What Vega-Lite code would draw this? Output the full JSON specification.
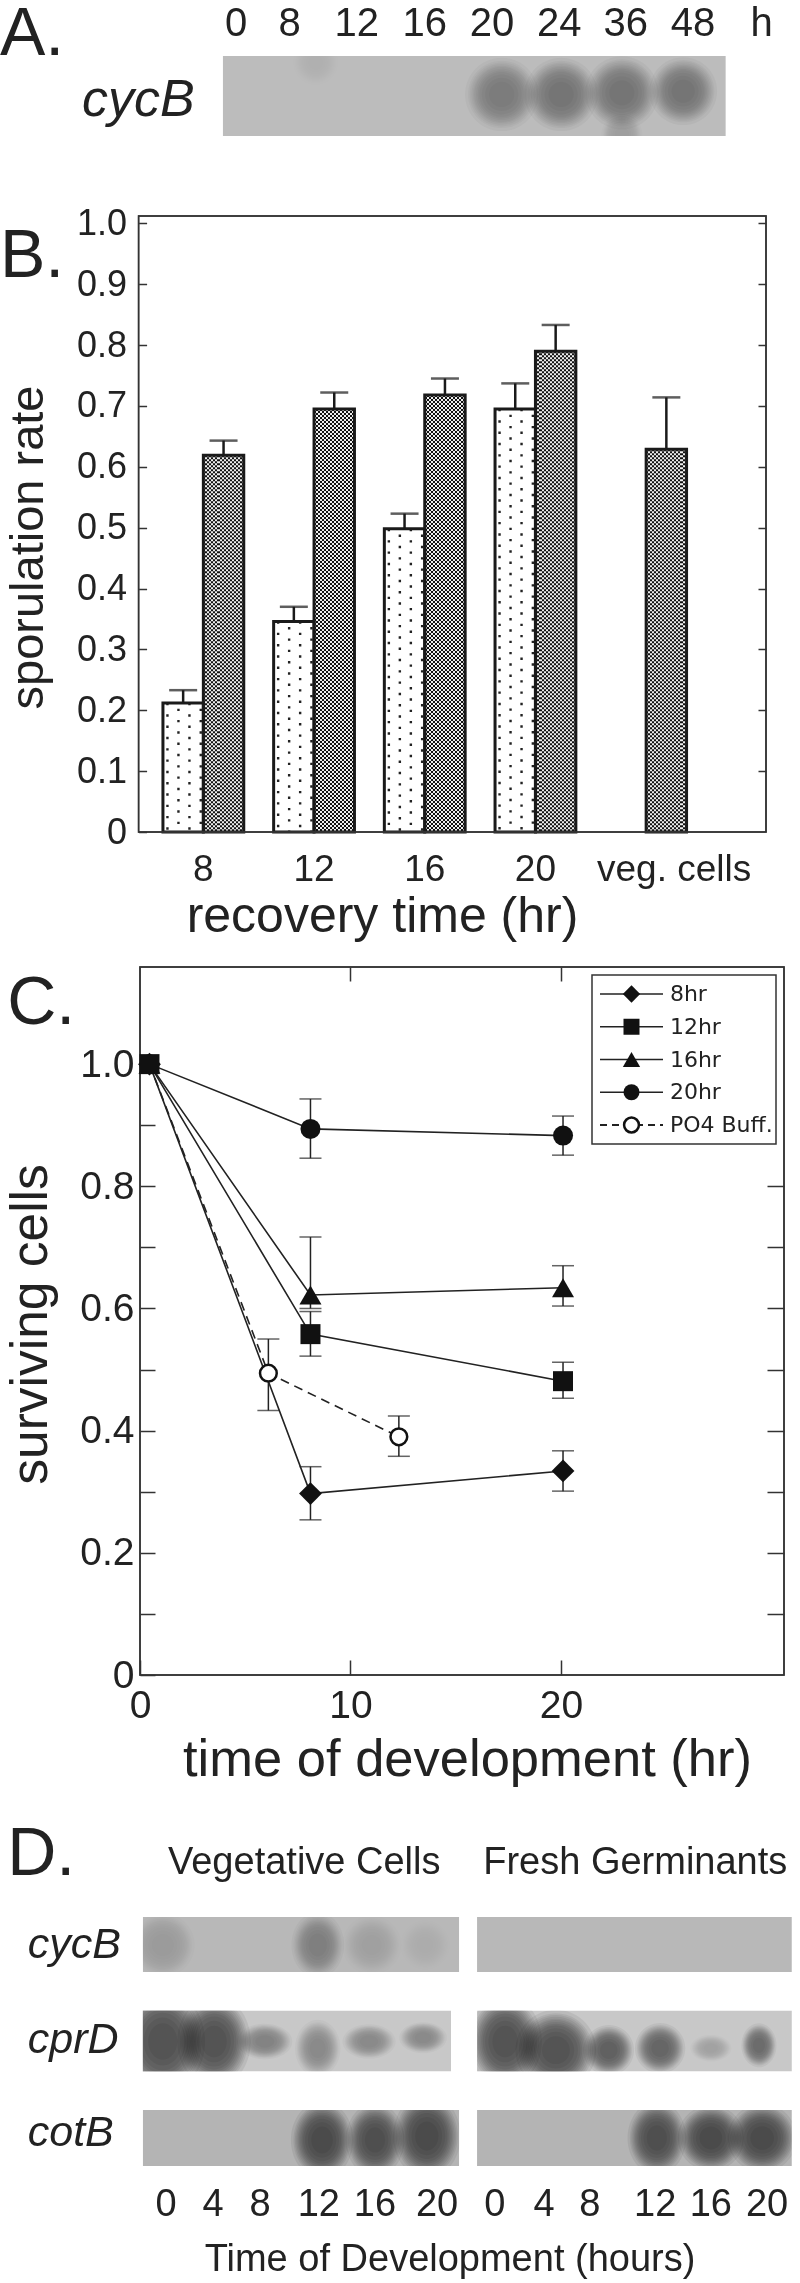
{"$schema":"https://vega.github.io/schema/vega-lite/v6.json","width":800,"height":2283,"padding":0,"autosize":{"type":"fit","contains":"padding"},"background":"white","config":{"view":{"stroke":null},"legend":{"disable":true},"font":"Liberation Sans","text":{"color":"#222"},"axis":{"labelColor":"#222","titleColor":"#222","labelFont":"Liberation Sans","titleFont":"Liberation Sans","titleFontWeight":"normal","grid":false}},
"resolve":{"scale":{"x":"independent","y":"independent"},"axis":{"x":"independent","y":"independent"}},
"datasets":{
"letters":[{"t":"A.","h":0,"v":2.41},{"t":"B.","h":0,"v":12.13},{"t":"C.","h":0.9,"v":44.85},{"t":"D.","h":0.9,"v":82.15}],
"laneA":[{"lane":0,"row":-0.394,"t":"0"},{"lane":0.82,"row":-0.394,"t":"8"},{"lane":1.85,"row":-0.394,"t":"12"},{"lane":2.89,"row":-0.394,"t":"16"},{"lane":3.92,"row":-0.394,"t":"20"},{"lane":4.95,"row":-0.394,"t":"24"},{"lane":5.97,"row":-0.394,"t":"36"},{"lane":7.0,"row":-0.394,"t":"48"},{"lane":8.05,"row":-0.394,"t":"h"}],
"geneA":[{"lane":-2.36,"row":0.55,"t":"cycB"}],
"bandA":[{"lane":1.22,"row":0.08,"level":0.08,"spread":0.5,"form":"round"},{"lane":4.07,"row":0.48,"level":0.5,"spread":0.8,"form":"round"},{"lane":4.98,"row":0.48,"level":0.55,"spread":0.8,"form":"round"},{"lane":5.91,"row":0.46,"level":0.55,"spread":0.8,"form":"round"},{"lane":5.91,"row":0.98,"level":0.16,"spread":0.45,"form":"round"},{"lane":6.85,"row":0.44,"level":0.55,"spread":0.74,"form":"round"}],
"gapA":[{"l0":-0.5,"l1":7.7,"r0":-0.4,"r1":0},{"l0":-0.5,"l1":7.7,"r0":1,"r1":1.6}],
"blotD":[{"gene":"cycB","l0":-0.43,"l1":5.43,"r0":-0.29,"r1":0.28},{"gene":"cycB","l0":5.76,"l1":11.59,"r0":-0.29,"r1":0.28},{"gene":"cprD","l0":-0.43,"l1":5.28,"r0":0.68,"r1":1.31},{"gene":"cprD","l0":5.76,"l1":11.59,"r0":0.68,"r1":1.31},{"gene":"cotB","l0":-0.43,"l1":5.43,"r0":1.71,"r1":2.29},{"gene":"cotB","l0":5.76,"l1":11.59,"r0":1.71,"r1":2.29}],
"gapD":[{"l0":-3,"l1":11.74,"r0":-0.6,"r1":-0.29},{"l0":-3,"l1":11.74,"r0":0.28,"r1":0.68},{"l0":-3,"l1":11.74,"r0":1.31,"r1":1.71},{"l0":-3,"l1":11.74,"r0":2.29,"r1":2.6},{"l0":-3,"l1":-0.43,"r0":-0.6,"r1":2.6},{"l0":5.43,"l1":5.76,"r0":-0.6,"r1":2.6},{"l0":5.28,"l1":5.76,"r0":0.6,"r1":1.4},{"l0":11.59,"l1":11.74,"r0":-0.6,"r1":2.6}],
"bandD":[
{"lane":-0.06,"row":0,"level":0.16,"spread":0.7,"form":"round"},{"lane":1.04,"row":0,"level":0.03,"spread":0.45,"form":"round"},{"lane":1.74,"row":0,"level":0.03,"spread":0.45,"form":"round"},{"lane":2.81,"row":0,"level":0.4,"spread":0.72,"form":"tall"},{"lane":3.81,"row":0,"level":0.15,"spread":0.65,"form":"round"},{"lane":4.8,"row":0,"level":0.05,"spread":0.55,"form":"round"},
{"lane":-0.06,"row":1,"level":1,"spread":1.15,"form":"tall"},{"lane":0.89,"row":1,"level":1,"spread":1.0,"form":"tall"},{"lane":1.83,"row":1.0,"level":0.5,"spread":0.6,"form":"wide"},{"lane":2.81,"row":1.07,"level":0.45,"spread":0.62,"form":"tall"},{"lane":3.76,"row":1.0,"level":0.4,"spread":0.58,"form":"wide"},{"lane":4.76,"row":0.96,"level":0.42,"spread":0.52,"form":"wide"},
{"lane":6.28,"row":1,"level":1,"spread":1.0,"form":"tall"},{"lane":7.22,"row":1.09,"level":1,"spread":0.88,"form":"round"},{"lane":8.2,"row":1.09,"level":0.85,"spread":0.55,"form":"round"},{"lane":9.15,"row":1.07,"level":0.8,"spread":0.55,"form":"round"},{"lane":10.09,"row":1.07,"level":0.25,"spread":0.45,"form":"wide"},{"lane":10.98,"row":1.04,"level":0.75,"spread":0.48,"form":"tall"},
{"lane":2.89,"row":2.02,"level":1,"spread":0.85,"form":"tall"},{"lane":3.87,"row":2.02,"level":0.95,"spread":0.8,"form":"tall"},{"lane":4.83,"row":1.98,"level":1,"spread":0.92,"form":"tall"},
{"lane":9.09,"row":2,"level":0.95,"spread":0.8,"form":"tall"},{"lane":10.09,"row":2,"level":1,"spread":0.72,"form":"round"},{"lane":11.04,"row":2,"level":1,"spread":0.75,"form":"round"}],
"textD":[{"lane":0,"row":2.69,"t":"0"},{"lane":0.87,"row":2.69,"t":"4"},{"lane":1.74,"row":2.69,"t":"8"},{"lane":2.83,"row":2.69,"t":"12"},{"lane":3.87,"row":2.69,"t":"16"},{"lane":5.02,"row":2.69,"t":"20"},{"lane":6.09,"row":2.69,"t":"0"},{"lane":7.0,"row":2.69,"t":"4"},{"lane":7.85,"row":2.69,"t":"8"},{"lane":9.06,"row":2.69,"t":"12"},{"lane":10.09,"row":2.69,"t":"16"},{"lane":11.13,"row":2.69,"t":"20"},{"lane":2.56,"row":-0.85,"t":"Vegetative Cells"},{"lane":8.69,"row":-0.85,"t":"Fresh Germinants"},{"lane":5.26,"row":3.26,"t":"Time of Development (hours)"}],
"geneD":[{"lane":-2.56,"row":0,"t":"cycB"},{"lane":-2.56,"row":0.98,"t":"cprD"},{"lane":-2.56,"row":1.95,"t":"cotB"}],
"rates":[{"recovery":"8","series":"plain","rate":0.212,"upper":0.233},{"recovery":"12","series":"plain","rate":0.346,"upper":0.37},{"recovery":"16","series":"plain","rate":0.498,"upper":0.523},{"recovery":"20","series":"plain","rate":0.695,"upper":0.737},{"recovery":"8","series":"dense","rate":0.619,"upper":0.643},{"recovery":"12","series":"dense","rate":0.695,"upper":0.722},{"recovery":"16","series":"dense","rate":0.718,"upper":0.745},{"recovery":"20","series":"dense","rate":0.79,"upper":0.833},{"recovery":"veg. cells","series":"dense","rate":0.629,"upper":0.714}],
"surv":[
{"series":"8hr","time":0.45,"surv":1},{"series":"8hr","time":8.1,"surv":0.297,"lo":0.254,"hi":0.341},{"series":"8hr","time":20.1,"surv":0.334,"lo":0.301,"hi":0.367},
{"series":"12hr","time":0.45,"surv":1},{"series":"12hr","time":8.1,"surv":0.558,"lo":0.522,"hi":0.595},{"series":"12hr","time":20.1,"surv":0.481,"lo":0.453,"hi":0.512},
{"series":"16hr","time":0.45,"surv":1},{"series":"16hr","time":8.1,"surv":0.622,"lo":0.6,"hi":0.717},{"series":"16hr","time":20.1,"surv":0.634,"lo":0.604,"hi":0.67},
{"series":"20hr","time":0.45,"surv":1},{"series":"20hr","time":8.1,"surv":0.894,"lo":0.846,"hi":0.943},{"series":"20hr","time":20.1,"surv":0.883,"lo":0.851,"hi":0.915},
{"series":"PO4 Buff.","time":0.45,"surv":1},{"series":"PO4 Buff.","time":6.1,"surv":0.494,"lo":0.433,"hi":0.55},{"series":"PO4 Buff.","time":12.3,"surv":0.39,"lo":0.358,"hi":0.424}],
"legendC":[{"series":"8hr"},{"series":"12hr"},{"series":"16hr"},{"series":"20hr"},{"series":"PO4 Buff."}]
},
"layer":[
{"encoding":{"x":{"field":"lane","type":"quantitative","scale":{"domain":[0,7],"range":[236,693],"nice":false,"zero":false},"axis":null},"y":{"field":"row","type":"quantitative","scale":{"domain":[0,1],"range":[56,136],"nice":false,"zero":false},"axis":null},"shape":{"field":"form","type":"nominal","scale":{"domain":["round","tall","wide"],"range":["M-1,0A1,1,0,1,1,1,0A1,1,0,1,1,-1,0Z","M-0.8,0A0.8,1,0,1,1,0.8,0A0.8,1,0,1,1,-0.8,0Z","M-1,0A1,0.65,0,1,1,1,0A1,0.65,0,1,1,-1,0Z"]}},"opacity":{"field":"level","type":"quantitative","scale":{"domain":[0,1],"range":[0,0.065]}}},
"resolve":{"scale":{"size":"independent"}},
"layer":[
{"data":{"values":[{"a":-0.2,"b":7.5,"c":0,"d":1}]},"mark":{"type":"rect","fill":"#bcbcbc"},"encoding":{"x":{"field":"a","type":"quantitative"},"x2":{"field":"b"},"y":{"field":"c","type":"quantitative"},"y2":{"field":"d"},"shape":{"value":null},"opacity":{"value":1}}},
{"data":{"name":"bandA"},"mark":{"type":"point","filled":true,"color":"#000"},"encoding":{"size":{"field":"spread","type":"quantitative","scale":{"type":"pow","exponent":2,"domain":[0,1.2],"range":[0,12100]}}}},
{"data":{"name":"bandA"},"mark":{"type":"point","filled":true,"color":"#000"},"encoding":{"size":{"field":"spread","type":"quantitative","scale":{"type":"pow","exponent":2,"domain":[0,1.2],"range":[0,10200]}}}},
{"data":{"name":"bandA"},"mark":{"type":"point","filled":true,"color":"#000"},"encoding":{"size":{"field":"spread","type":"quantitative","scale":{"type":"pow","exponent":2,"domain":[0,1.2],"range":[0,9216]}}}},
{"data":{"name":"bandA"},"mark":{"type":"point","filled":true,"color":"#000"},"encoding":{"size":{"field":"spread","type":"quantitative","scale":{"type":"pow","exponent":2,"domain":[0,1.2],"range":[0,8281]}}}},
{"data":{"name":"bandA"},"mark":{"type":"point","filled":true,"color":"#000"},"encoding":{"size":{"field":"spread","type":"quantitative","scale":{"type":"pow","exponent":2,"domain":[0,1.2],"range":[0,7396]}}}},
{"data":{"name":"bandA"},"mark":{"type":"point","filled":true,"color":"#000"},"encoding":{"size":{"field":"spread","type":"quantitative","scale":{"type":"pow","exponent":2,"domain":[0,1.2],"range":[0,6724]}}}},
{"data":{"name":"bandA"},"mark":{"type":"point","filled":true,"color":"#000"},"encoding":{"size":{"field":"spread","type":"quantitative","scale":{"type":"pow","exponent":2,"domain":[0,1.2],"range":[0,5929]}}}},
{"data":{"name":"bandA"},"mark":{"type":"point","filled":true,"color":"#000"},"encoding":{"size":{"field":"spread","type":"quantitative","scale":{"type":"pow","exponent":2,"domain":[0,1.2],"range":[0,5184]}}}},
{"data":{"name":"bandA"},"mark":{"type":"point","filled":true,"color":"#000"},"encoding":{"size":{"field":"spread","type":"quantitative","scale":{"type":"pow","exponent":2,"domain":[0,1.2],"range":[0,4489]}}}},
{"data":{"name":"bandA"},"mark":{"type":"point","filled":true,"color":"#000"},"encoding":{"size":{"field":"spread","type":"quantitative","scale":{"type":"pow","exponent":2,"domain":[0,1.2],"range":[0,3600]}}}},
{"data":{"name":"bandA"},"mark":{"type":"point","filled":true,"color":"#000"},"encoding":{"size":{"field":"spread","type":"quantitative","scale":{"type":"pow","exponent":2,"domain":[0,1.2],"range":[0,2500]}}}},
{"data":{"name":"bandA"},"mark":{"type":"point","filled":true,"color":"#000"},"encoding":{"size":{"field":"spread","type":"quantitative","scale":{"type":"pow","exponent":2,"domain":[0,1.2],"range":[0,1444]}}}},
{"data":{"name":"gapA"},"mark":{"type":"rect","fill":"white"},"encoding":{"x":{"field":"l0","type":"quantitative"},"x2":{"field":"l1"},"y":{"field":"r0","type":"quantitative"},"y2":{"field":"r1"},"shape":{"value":null},"opacity":{"value":1}}},
{"data":{"name":"laneA"},"mark":{"type":"text","fontSize":40,"baseline":"middle"},"encoding":{"text":{"field":"t"},"shape":{"value":null},"opacity":{"value":1}}},
{"data":{"name":"geneA"},"mark":{"type":"text","fontSize":52,"fontStyle":"italic","align":"left","baseline":"middle"},"encoding":{"text":{"field":"t"},"shape":{"value":null},"opacity":{"value":1}}}
]},

{"data":{"name":"rates"},"encoding":{"x":{"field":"recovery","type":"nominal","sort":null,"scale":{"domain":["8","12","16","20","veg. cells"],"range":[148,701.5],"paddingInner":0.27,"paddingOuter":0.135},"axis":{"orient":"bottom","offset":-1451,"domain":false,"ticks":false,"labelAngle":0,"labelFontSize":37,"labelPadding":19,"labelOffset":{"condition":{"test":"datum.value==='veg. cells'","value":28},"value":0},"title":"recovery time (hr)","titleFontSize":50,"titleX":382,"titleY":84,"titleBaseline":"middle","titleAnchor":null}},"y":{"field":"rate","type":"quantitative","scale":{"domain":[0,1.012],"range":[832,216],"nice":false,"zero":false},"axis":null}},
"layer":[
{"transform":[{"filter":"datum.series==='dense'"}],"mark":{"type":"bar","fill":"#111"},"encoding":{"xOffset":{"field":"series","scale":{"domain":["plain","dense"]}},"y2":{"datum":0}}},
{"transform":[{"filter":"datum.series==='dense'"}],"mark":{"type":"rule","stroke":"#fff","strokeWidth":39,"strokeDash":[2,2],"blend":"difference"},"encoding":{"x":{"field":"recovery","type":"nominal","bandPosition":0.75},"y2":{"datum":0}}},
{"transform":[{"filter":"datum.series==='dense'"}],"mark":{"type":"bar","blend":"difference","fill":{"gradient":"linear","x1":0,"x2":1,"y1":0,"y2":0,"stops":[{"offset":0.05,"color":"rgba(255,255,255,0)"},{"offset":0.05,"color":"#fff"},{"offset":0.1,"color":"#fff"},{"offset":0.1,"color":"rgba(255,255,255,0)"},{"offset":0.15,"color":"rgba(255,255,255,0)"},{"offset":0.15,"color":"#fff"},{"offset":0.2,"color":"#fff"},{"offset":0.2,"color":"rgba(255,255,255,0)"},{"offset":0.25,"color":"rgba(255,255,255,0)"},{"offset":0.25,"color":"#fff"},{"offset":0.3,"color":"#fff"},{"offset":0.3,"color":"rgba(255,255,255,0)"},{"offset":0.35,"color":"rgba(255,255,255,0)"},{"offset":0.35,"color":"#fff"},{"offset":0.4,"color":"#fff"},{"offset":0.4,"color":"rgba(255,255,255,0)"},{"offset":0.45,"color":"rgba(255,255,255,0)"},{"offset":0.45,"color":"#fff"},{"offset":0.5,"color":"#fff"},{"offset":0.5,"color":"rgba(255,255,255,0)"},{"offset":0.55,"color":"rgba(255,255,255,0)"},{"offset":0.55,"color":"#fff"},{"offset":0.6,"color":"#fff"},{"offset":0.6,"color":"rgba(255,255,255,0)"},{"offset":0.65,"color":"rgba(255,255,255,0)"},{"offset":0.65,"color":"#fff"},{"offset":0.7,"color":"#fff"},{"offset":0.7,"color":"rgba(255,255,255,0)"},{"offset":0.75,"color":"rgba(255,255,255,0)"},{"offset":0.75,"color":"#fff"},{"offset":0.8,"color":"#fff"},{"offset":0.8,"color":"rgba(255,255,255,0)"},{"offset":0.85,"color":"rgba(255,255,255,0)"},{"offset":0.85,"color":"#fff"},{"offset":0.9,"color":"#fff"},{"offset":0.9,"color":"rgba(255,255,255,0)"},{"offset":0.95,"color":"rgba(255,255,255,0)"},{"offset":0.95,"color":"#fff"},{"offset":1,"color":"#fff"}]}},"encoding":{"xOffset":{"field":"series","scale":{"domain":["plain","dense"]}},"y2":{"datum":0}}},
{"transform":[{"filter":"datum.series==='plain'"}],"mark":{"type":"rule","stroke":"#222","strokeWidth":2.4,"strokeDash":[2.4,8.9],"xOffset":-15.7},"encoding":{"x":{"field":"recovery","type":"nominal","bandPosition":0.25},"y2":{"datum":0}}},
{"transform":[{"filter":"datum.series==='plain'"}],"mark":{"type":"rule","stroke":"#222","strokeWidth":2.4,"strokeDash":[2.4,8.9],"strokeDashOffset":5.6,"xOffset":-4.7},"encoding":{"x":{"field":"recovery","type":"nominal","bandPosition":0.25},"y2":{"datum":0}}},
{"transform":[{"filter":"datum.series==='plain'"}],"mark":{"type":"rule","stroke":"#222","strokeWidth":2.4,"strokeDash":[2.4,8.9],"xOffset":6.3},"encoding":{"x":{"field":"recovery","type":"nominal","bandPosition":0.25},"y2":{"datum":0}}},
{"transform":[{"filter":"datum.series==='plain'"}],"mark":{"type":"rule","stroke":"#222","strokeWidth":2.4,"strokeDash":[2.4,8.9],"strokeDashOffset":5.6,"xOffset":17.6},"encoding":{"x":{"field":"recovery","type":"nominal","bandPosition":0.25},"y2":{"datum":0}}},
{"mark":{"type":"bar","fill":"transparent","stroke":"#1a1a1a","strokeWidth":3},"encoding":{"xOffset":{"field":"series","scale":{"domain":["plain","dense"]}},"y2":{"datum":0}}},
{"transform":[{"filter":"datum.series==='plain'"}],"mark":{"type":"rule","stroke":"#1a1a1a","strokeWidth":2.5},"encoding":{"x":{"field":"recovery","type":"nominal","bandPosition":0.25},"y2":{"field":"upper"}}},
{"transform":[{"filter":"datum.series==='dense'"}],"mark":{"type":"rule","stroke":"#1a1a1a","strokeWidth":2.5},"encoding":{"x":{"field":"recovery","type":"nominal","bandPosition":0.75},"y2":{"field":"upper"}}},
{"transform":[{"filter":"datum.series==='plain'"}],"mark":{"type":"tick","color":"#1a1a1a","orient":"horizontal","size":28,"thickness":2.5,"xOffset":-20.2},"encoding":{"y":{"field":"upper","type":"quantitative"}}},
{"transform":[{"filter":"datum.series==='dense'"}],"mark":{"type":"tick","color":"#1a1a1a","orient":"horizontal","size":28,"thickness":2.5,"xOffset":20.2},"encoding":{"y":{"field":"upper","type":"quantitative"}}}
]},
{"data":{"values":[{"a":0}]},"mark":{"type":"rect","fill":"transparent","stroke":"#333","strokeWidth":1.5},"encoding":{"x":{"datum":0,"type":"quantitative","scale":{"domain":[0,1],"range":[138.6,766],"nice":false,"zero":false},"axis":null},"x2":{"datum":1},"y":{"datum":0,"type":"quantitative","scale":{"domain":[0,1.012],"range":[832,216],"nice":false,"zero":false},"axis":{"orient":"left","offset":-138.6,"domain":false,"values":[0,0.1,0.2,0.3,0.4,0.5,0.6,0.7,0.8,0.9,1],"labelExpr":"datum.value===0?'0':format(datum.value,'.1f')","tickSize":-8,"tickColor":"#333","tickWidth":1.5,"labelFontSize":36,"labelPadding":20,"title":"sporulation rate","titleFontSize":47,"titleX":-110,"titleY":547,"titleBaseline":"middle","titleAngle":-90,"titleAlign":"center"}},"y2":{"datum":1.012}}},
{"data":{"values":[{"a":0}]},"mark":{"type":"rect","fill":"transparent","stroke":"#333","strokeWidth":1.5},"encoding":{"x":{"datum":0,"type":"quantitative","scale":{"domain":[0,1],"range":[138.6,766],"nice":false,"zero":false},"axis":null},"x2":{"datum":1},"y":{"datum":0,"type":"quantitative","scale":{"domain":[0,1.012],"range":[832,216],"nice":false,"zero":false},"axis":{"orient":"right","offset":-34,"domain":false,"values":[0.1,0.2,0.3,0.4,0.5,0.6,0.7,0.8,0.9,1],"labels":false,"tickSize":-8,"tickColor":"#333","tickWidth":1.5,"title":null}},"y2":{"datum":1.012}}},

{"data":{"values":[{"a":0}]},"mark":{"type":"rect","fill":"transparent","stroke":"#333","strokeWidth":1.5},"encoding":{"x":{"datum":0,"type":"quantitative","scale":{"domain":[0,30.6],"range":[140,784],"nice":false,"zero":false},"axis":{"orient":"bottom","offset":-608,"domain":false,"values":[0,10,20],"tickSize":-15,"tickColor":"#333","tickWidth":1.5,"labelFontSize":39,"labelPadding":26,"labelFlush":false,"labelExpr":"datum.value","title":"time of development (hr)","titleFontSize":52.5,"titleX":467,"titleY":84,"titleBaseline":"middle"}},"x2":{"datum":30.6},"y":{"datum":0,"type":"quantitative","scale":{"domain":[0,1.159],"range":[1675,967],"nice":false,"zero":false},"axis":{"orient":"left","offset":-140,"domain":false,"values":[0.1,0.2,0.3,0.4,0.5,0.6,0.7,0.8,0.9,1,0],"labelExpr":"round(datum.value*10)%2==0?(datum.value==0?'0':format(datum.value,'.1f')):''","tickSize":-15,"tickColor":"#333","tickWidth":1.5,"labelFontSize":39,"labelPadding":21,"title":"surviving cells","titleFontSize":51.5,"titleX":-109,"titleY":1324,"titleBaseline":"middle","titleAngle":-90,"titleAlign":"center"}},"y2":{"datum":1.159}}},
{"data":{"values":[{"a":0}]},"mark":{"type":"rect","fill":"transparent","stroke":"#333","strokeWidth":1.5},"encoding":{"x":{"datum":0,"type":"quantitative","scale":{"domain":[0,30.6],"range":[140,784],"nice":false,"zero":false},"axis":{"orient":"top","offset":-967,"domain":false,"values":[10,20],"labels":false,"tickSize":-14,"tickColor":"#333","tickWidth":1.5,"title":null}},"x2":{"datum":30.6},"y":{"datum":0,"type":"quantitative","scale":{"domain":[0,1.159],"range":[1675,967],"nice":false,"zero":false},"axis":{"orient":"right","offset":-16,"domain":false,"values":[0.1,0.2,0.3,0.4,0.5,0.6,0.7,0.8],"labels":false,"tickSize":-17,"tickColor":"#333","tickWidth":1.5,"title":null}},"y2":{"datum":1.159}}},

{"data":{"name":"surv"},"encoding":{"x":{"field":"time","type":"quantitative","scale":{"domain":[0,30.6],"range":[140,784],"nice":false,"zero":false},"axis":null},"y":{"field":"surv","type":"quantitative","scale":{"domain":[0,1.159],"range":[1675,967],"nice":false,"zero":false},"axis":null}},
"layer":[
{"transform":[{"filter":"datum.series!=='PO4 Buff.'"}],"mark":{"type":"line","stroke":"#222","strokeWidth":1.6},"encoding":{"detail":{"field":"series"}}},
{"transform":[{"filter":"datum.series==='PO4 Buff.'"}],"mark":{"type":"line","stroke":"#222","strokeWidth":1.6,"strokeDash":[9,6]}},
{"transform":[{"filter":"datum.hi>0"}],"mark":{"type":"rule","stroke":"#222","strokeWidth":1.5},"encoding":{"y":{"field":"lo","type":"quantitative"},"y2":{"field":"hi"}}},
{"transform":[{"filter":"datum.hi>0"}],"mark":{"type":"tick","orient":"horizontal","color":"#222","size":22,"thickness":1.5},"encoding":{"y":{"field":"lo","type":"quantitative"}}},
{"transform":[{"filter":"datum.hi>0"}],"mark":{"type":"tick","orient":"horizontal","color":"#222","size":22,"thickness":1.5},"encoding":{"y":{"field":"hi","type":"quantitative"}}},
{"transform":[{"filter":"datum.series==='20hr'"}],"mark":{"type":"point","shape":"circle","filled":true,"color":"#111","opacity":1,"size":400}},
{"transform":[{"filter":"datum.series==='16hr'"}],"mark":{"type":"point","shape":"triangle-up","filled":true,"color":"#111","opacity":1,"size":484}},
{"transform":[{"filter":"datum.series==='8hr'"}],"mark":{"type":"point","shape":"diamond","filled":true,"color":"#111","opacity":1,"size":520}},
{"transform":[{"filter":"datum.series==='PO4 Buff.'&&datum.hi>0"}],"mark":{"type":"point","shape":"circle","filled":true,"fill":"#fff","stroke":"#111","strokeWidth":2.5,"opacity":1,"size":280}},
{"transform":[{"filter":"datum.series==='12hr'"}],"mark":{"type":"point","shape":"square","filled":true,"color":"#111","opacity":1,"size":400}}
]},

{"data":{"values":[{"a":0}]},"mark":{"type":"rect","fill":"white","stroke":"#333","strokeWidth":1.5},"encoding":{"x":{"datum":0,"type":"quantitative","scale":{"domain":[0,1],"range":[592,776],"nice":false,"zero":false},"axis":null},"x2":{"datum":1},"y":{"datum":0,"type":"quantitative","scale":{"domain":[0,1],"range":[975,1144],"nice":false,"zero":false},"axis":null},"y2":{"datum":1}}},
{"data":{"name":"legendC"},"encoding":{"x":{"datum":0,"type":"quantitative","scale":{"domain":[0,1],"range":[600,663],"nice":false,"zero":false},"axis":null},"y":{"field":"series","type":"nominal","sort":null,"scale":{"type":"point","domain":["8hr","12hr","16hr","20hr","PO4 Buff."],"range":[994,1125],"padding":0},"axis":null}},
"layer":[
{"transform":[{"filter":"datum.series!=='PO4 Buff.'"}],"mark":{"type":"rule","stroke":"#222","strokeWidth":1.6},"encoding":{"x2":{"datum":1}}},
{"transform":[{"filter":"datum.series==='PO4 Buff.'"}],"mark":{"type":"rule","stroke":"#222","strokeWidth":2,"strokeDash":[7,5]},"encoding":{"x2":{"datum":1}}},
{"transform":[{"filter":"datum.series==='8hr'"}],"mark":{"type":"point","shape":"diamond","filled":true,"color":"#111","opacity":1,"size":300},"encoding":{"x":{"datum":0.5}}},
{"transform":[{"filter":"datum.series==='12hr'"}],"mark":{"type":"point","shape":"square","filled":true,"color":"#111","opacity":1,"size":256},"encoding":{"x":{"datum":0.5}}},
{"transform":[{"filter":"datum.series==='16hr'"}],"mark":{"type":"point","shape":"triangle-up","filled":true,"color":"#111","opacity":1,"size":300},"encoding":{"x":{"datum":0.5}}},
{"transform":[{"filter":"datum.series==='20hr'"}],"mark":{"type":"point","shape":"circle","filled":true,"color":"#111","opacity":1,"size":256},"encoding":{"x":{"datum":0.5}}},
{"transform":[{"filter":"datum.series==='PO4 Buff.'"}],"mark":{"type":"point","shape":"circle","filled":true,"fill":"#fff","stroke":"#111","strokeWidth":2.5,"opacity":1,"size":220},"encoding":{"x":{"datum":0.5}}},
{"mark":{"type":"text","font":"DejaVu Sans","fontSize":22,"align":"left","baseline":"middle"},"encoding":{"x":{"datum":1.11},"text":{"field":"series"}}}
]},

{"encoding":{"x":{"field":"lane","type":"quantitative","scale":{"domain":[0,11.5],"range":[166,787],"nice":false,"zero":false},"axis":null},"y":{"field":"row","type":"quantitative","scale":{"domain":[0,2],"range":[1945,2138],"nice":false,"zero":false},"axis":null},"shape":{"field":"form","type":"nominal","scale":{"domain":["round","tall","wide"],"range":["M-1,0A1,1,0,1,1,1,0A1,1,0,1,1,-1,0Z","M-0.8,0A0.8,1,0,1,1,0.8,0A0.8,1,0,1,1,-0.8,0Z","M-1,0A1,0.65,0,1,1,1,0A1,0.65,0,1,1,-1,0Z"]}},"opacity":{"field":"level","type":"quantitative","scale":{"domain":[0,1],"range":[0,0.065]}}},
"resolve":{"scale":{"size":"independent"}},
"layer":[
{"data":{"name":"blotD"},"mark":{"type":"rect"},"encoding":{"x":{"field":"l0","type":"quantitative"},"x2":{"field":"l1"},"y":{"field":"r0","type":"quantitative"},"y2":{"field":"r1"},"color":{"field":"gene","type":"nominal","scale":{"domain":["cycB","cprD","cotB"],"range":["#b8b8b8","#c8c8c8","#b4b4b4"]}},"shape":{"value":null},"opacity":{"value":1}}},
{"data":{"name":"bandD"},"mark":{"type":"point","filled":true,"color":"#000"},"encoding":{"size":{"field":"spread","type":"quantitative","scale":{"type":"pow","exponent":2,"domain":[0,1.2],"range":[0,12100]}}}},
{"data":{"name":"bandD"},"mark":{"type":"point","filled":true,"color":"#000"},"encoding":{"size":{"field":"spread","type":"quantitative","scale":{"type":"pow","exponent":2,"domain":[0,1.2],"range":[0,10200]}}}},
{"data":{"name":"bandD"},"mark":{"type":"point","filled":true,"color":"#000"},"encoding":{"size":{"field":"spread","type":"quantitative","scale":{"type":"pow","exponent":2,"domain":[0,1.2],"range":[0,9216]}}}},
{"data":{"name":"bandD"},"mark":{"type":"point","filled":true,"color":"#000"},"encoding":{"size":{"field":"spread","type":"quantitative","scale":{"type":"pow","exponent":2,"domain":[0,1.2],"range":[0,8281]}}}},
{"data":{"name":"bandD"},"mark":{"type":"point","filled":true,"color":"#000"},"encoding":{"size":{"field":"spread","type":"quantitative","scale":{"type":"pow","exponent":2,"domain":[0,1.2],"range":[0,7396]}}}},
{"data":{"name":"bandD"},"mark":{"type":"point","filled":true,"color":"#000"},"encoding":{"size":{"field":"spread","type":"quantitative","scale":{"type":"pow","exponent":2,"domain":[0,1.2],"range":[0,6724]}}}},
{"data":{"name":"bandD"},"mark":{"type":"point","filled":true,"color":"#000"},"encoding":{"size":{"field":"spread","type":"quantitative","scale":{"type":"pow","exponent":2,"domain":[0,1.2],"range":[0,5929]}}}},
{"data":{"name":"bandD"},"mark":{"type":"point","filled":true,"color":"#000"},"encoding":{"size":{"field":"spread","type":"quantitative","scale":{"type":"pow","exponent":2,"domain":[0,1.2],"range":[0,5184]}}}},
{"data":{"name":"bandD"},"mark":{"type":"point","filled":true,"color":"#000"},"encoding":{"size":{"field":"spread","type":"quantitative","scale":{"type":"pow","exponent":2,"domain":[0,1.2],"range":[0,4489]}}}},
{"data":{"name":"bandD"},"mark":{"type":"point","filled":true,"color":"#000"},"encoding":{"size":{"field":"spread","type":"quantitative","scale":{"type":"pow","exponent":2,"domain":[0,1.2],"range":[0,3600]}}}},
{"data":{"name":"bandD"},"mark":{"type":"point","filled":true,"color":"#000"},"encoding":{"size":{"field":"spread","type":"quantitative","scale":{"type":"pow","exponent":2,"domain":[0,1.2],"range":[0,2500]}}}},
{"data":{"name":"bandD"},"mark":{"type":"point","filled":true,"color":"#000"},"encoding":{"size":{"field":"spread","type":"quantitative","scale":{"type":"pow","exponent":2,"domain":[0,1.2],"range":[0,1444]}}}},
{"data":{"name":"gapD"},"mark":{"type":"rect","fill":"white"},"encoding":{"x":{"field":"l0","type":"quantitative"},"x2":{"field":"l1"},"y":{"field":"r0","type":"quantitative"},"y2":{"field":"r1"},"shape":{"value":null},"opacity":{"value":1}}},
{"data":{"name":"textD"},"mark":{"type":"text","fontSize":38,"baseline":"middle"},"encoding":{"text":{"field":"t"},"shape":{"value":null},"opacity":{"value":1}}},
{"data":{"name":"geneD"},"mark":{"type":"text","fontSize":43,"fontStyle":"italic","align":"left","baseline":"middle"},"encoding":{"text":{"field":"t"},"shape":{"value":null},"opacity":{"value":1}}}
]},
{"data":{"name":"letters"},"mark":{"type":"text","fontSize":68,"align":"left","baseline":"alphabetic"},"encoding":{"x":{"field":"h","type":"quantitative","scale":{"domain":[0,100],"range":[0,800],"nice":false,"zero":false},"axis":null},"y":{"field":"v","type":"quantitative","scale":{"domain":[0,100],"range":[0,2283],"nice":false,"zero":false},"axis":null},"text":{"field":"t"}}}
]}
